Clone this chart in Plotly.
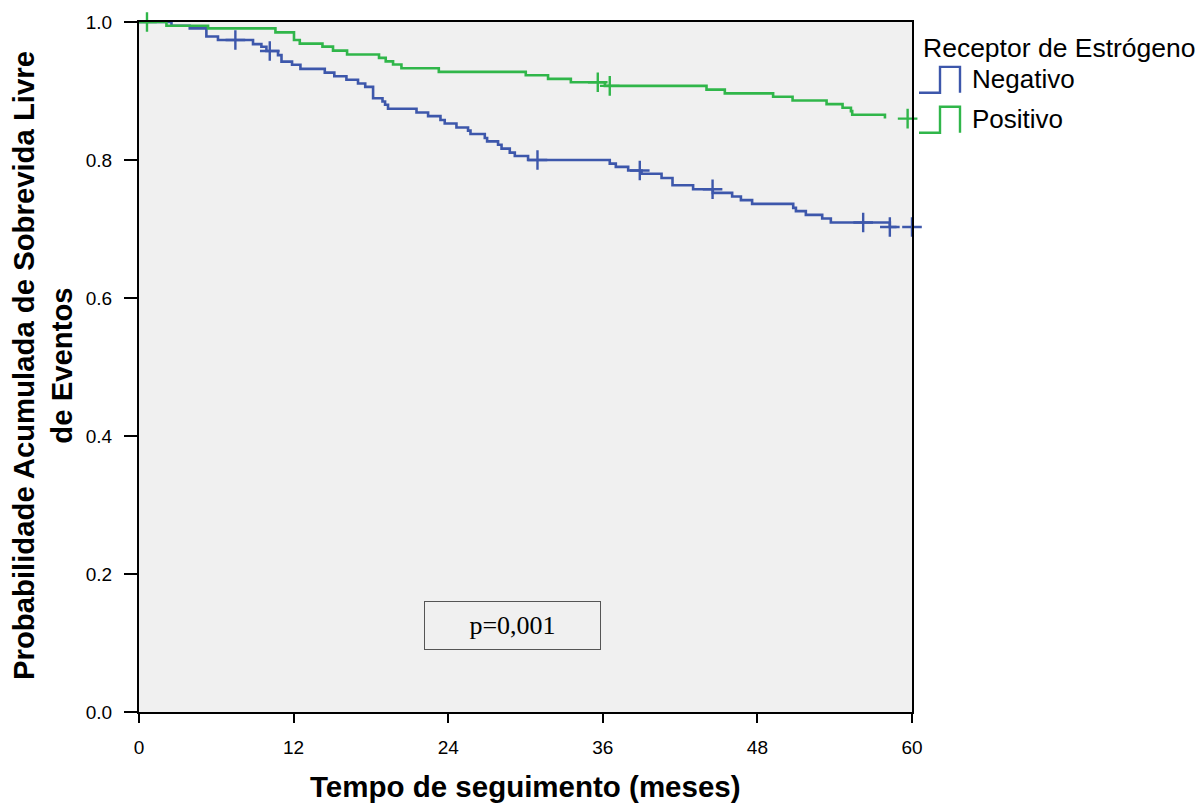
import plotly.graph_objects as go

# Kaplan-Meier estimates (time in months, cumulative survival) by estrogen receptor status
neg_t = [0, 2.52, 3.94, 5.23, 6.13, 8.85, 9.50, 9.89, 10.79, 11.06, 11.88, 12.53, 14.42, 15.16,
         16.10, 17.00, 17.56, 18.17, 18.90, 19.10, 19.33, 21.54, 22.44, 23.40, 23.73, 24.64,
         25.54, 25.73, 26.84, 27.02, 27.87, 28.14, 28.78, 29.17, 30.20, 36.54, 37.01, 37.97,
         39.01, 40.56, 41.41, 43.01, 44.54, 46.04, 46.72, 47.59, 50.78, 50.99, 51.76, 53.03,
         53.70, 58.28, 58.80]
neg_s = [1.0, 0.9946, 0.9908, 0.979, 0.974, 0.968, 0.9642, 0.958, 0.952, 0.9426, 0.938, 0.932,
         0.9267, 0.9214, 0.9162, 0.9108, 0.906, 0.8896, 0.8848, 0.880, 0.8743, 0.8689, 0.8636,
         0.858, 0.853, 0.847, 0.8425, 0.8376, 0.8318, 0.827, 0.822, 0.8165, 0.8107, 0.8058,
         0.800, 0.7948, 0.790, 0.7847, 0.780, 0.774, 0.7634, 0.7576, 0.7523, 0.747, 0.7418,
         0.7364, 0.7306, 0.7259, 0.7205, 0.7153, 0.7095, 0.703, 0.703]
neg_censor = [7.48, 10.15, 30.93, 38.87, 44.52, 56.21, 58.28, 60.0]

pos_t = [0, 2.13, 5.36, 10.59, 12.03, 12.48, 14.24, 15.06, 16.15, 18.63, 19.15, 19.72, 20.37,
         23.27, 30.02, 31.75, 33.52, 36.16, 44.05, 45.47, 49.22, 50.73, 53.37, 54.61, 55.26,
         55.36, 57.90]
pos_s = [1.0, 0.9946, 0.9908, 0.985, 0.974, 0.9686, 0.9643, 0.9585, 0.953, 0.948, 0.943,
         0.9383, 0.933, 0.9277, 0.9228, 0.9176, 0.9127, 0.9075, 0.902, 0.8966, 0.8916, 0.8863,
         0.881, 0.8757, 0.8708, 0.8656, 0.860]
pos_censor = [0.62, 35.61, 36.54, 59.66]

group_names = ["Negativo", "Positivo"]
group_colors = ["#3d57ab", "#30b64a"]
x_ticks = [0, 12, 24, 36, 48, 60]
y_ticks = [0.0, 0.2, 0.4, 0.6, 0.8, 1.0]
p_text = "p=0,001"

W, H = 1202, 805
ML, MR, MT, MB = 139, 290, 20, 93
PW, PH = W - ML - MR, H - MT - MB


def px_x(p):
    return (p - ML) / PW


def px_y(p):
    return (H - MB - p) / PH


def step_value(ts, ss, t):
    v = ss[0]
    for ti, si in zip(ts, ss):
        if ti <= t:
            v = si
    return v


fig = go.Figure()
series = [(neg_t, neg_s, neg_censor), (pos_t, pos_s, pos_censor)]
for (ts, ss, cs), name, col in zip(series, group_names, group_colors):
    fig.add_trace(go.Scatter(x=ts, y=ss, mode="lines", line=dict(color=col, width=2.6, shape="hv"),
                             name=name, showlegend=False, hoverinfo="skip"))
for (ts, ss, cs), name, col in zip(series, group_names, group_colors):
    fig.add_trace(go.Scatter(x=cs, y=[step_value(ts, ss, c) for c in cs], mode="markers",
                             marker=dict(symbol="cross-thin", size=14, line=dict(color=col, width=2.4)),
                             cliponaxis=False, showlegend=False, name=name + " censurado"))

font_ax = "Liberation Sans, Arial, sans-serif"
fig.update_layout(
    width=W, height=H,
    margin=dict(l=ML, r=MR, t=MT, b=MB),
    paper_bgcolor="white", plot_bgcolor="#f0f0f0",
    font=dict(family=font_ax, color="black", size=19),
    showlegend=False,
)
fig.update_xaxes(range=[0, 60], tickvals=x_ticks, ticktext=[str(v) for v in x_ticks],
                 ticks="outside", ticklen=9, tickwidth=2, tickcolor="black",
                 showline=True, linecolor="black", linewidth=2, mirror=True,
                 showgrid=False, zeroline=False, tickfont=dict(size=19), ticklabelstandoff=8)
fig.update_yaxes(range=[0, 1], tickvals=y_ticks, ticktext=[f"{v:.1f}" for v in y_ticks],
                 ticks="outside", ticklen=13, tickwidth=2, tickcolor="black",
                 showline=True, linecolor="black", linewidth=2, mirror=True,
                 showgrid=False, zeroline=False, tickfont=dict(size=19), ticklabelstandoff=8)

# axis titles
fig.add_annotation(text="<b>Tempo de seguimento (meses)</b>", xref="paper", yref="paper",
                   x=0.5, y=px_y(787), xanchor="center", yanchor="middle", showarrow=False,
                   font=dict(size=29.5, family=font_ax))
fig.add_annotation(text="<b>Probabilidade Acumulada de Sobrevida Livre<br>de Eventos</b>",
                   xref="paper", yref="paper", x=px_x(42), y=px_y(365), xanchor="center",
                   yanchor="middle", textangle=-90, showarrow=False,
                   font=dict(size=29.3, family=font_ax))

# p-value box
fig.add_annotation(text=p_text, x=29.0, y=0.125, xref="x", yref="y", showarrow=False,
                   font=dict(size=26, family="Liberation Serif, Times New Roman, serif"),
                   bordercolor="#555555", borderwidth=1, borderpad=0, width=175, height=47,
                   xanchor="center", yanchor="middle")

# legend block
fig.add_annotation(text="Receptor de Estrógeno", xref="paper", yref="paper",
                   x=px_x(921), y=px_y(46), xanchor="left", yanchor="middle", showarrow=False,
                   font=dict(size=26.5, family=font_ax))
icon_tops = [65, 105]
for name, col, top in zip(group_names, group_colors, icon_tops):
    bottom = top + 26
    path = (f"M {px_x(919)},{px_y(bottom)} L {px_x(940)},{px_y(bottom)} "
            f"L {px_x(940)},{px_y(top)} L {px_x(960)},{px_y(top)} L {px_x(960)},{px_y(bottom)}")
    fig.add_shape(type="path", path=path, xref="paper", yref="paper",
                  line=dict(color=col, width=2.4))
    fig.add_annotation(text=name, xref="paper", yref="paper", x=px_x(970), y=px_y(top + 12),
                       xanchor="left", yanchor="middle", showarrow=False,
                       font=dict(size=26, family=font_ax))

fig.write_html("out.html")
